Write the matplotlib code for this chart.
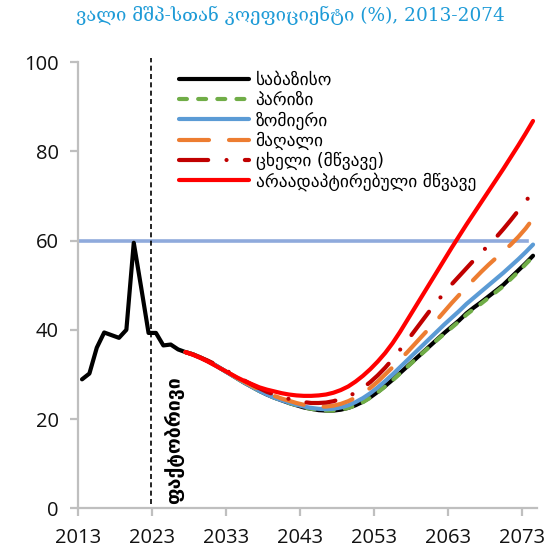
import matplotlib
matplotlib.use("Agg")
import matplotlib.pyplot as plt
import numpy as np

# ---------------- data ----------------
hist_years = list(range(2013, 2027))
hist_values = [28.9, 30.2, 36.0, 39.4, 38.8, 38.2, 40.0, 59.5, 49.5, 39.3,
               39.3, 36.5, 36.7, 35.6]

proj_years = list(range(2027, 2075))
baseline = [35.0, 34.5, 33.8, 33.0, 32.1, 31.1, 30.1, 29.1, 28.1, 27.2,
            26.3, 25.5, 24.8, 24.2, 23.6, 23.1, 22.6, 22.3, 22.0, 21.9,
            21.9, 22.1, 22.5, 23.1, 23.9, 24.9, 26.1, 27.4, 28.8, 30.3,
            31.8, 33.3, 34.8, 36.3, 37.8, 39.3, 40.7, 42.1, 43.7, 45.0,
            46.2, 47.5, 48.8, 50.1, 51.7, 53.3, 54.9, 56.6]
paris = [35.0, 34.5, 33.8, 33.0, 32.1, 31.1, 30.1, 29.1, 28.1, 27.2,
         26.3, 25.5, 24.8, 24.2, 23.6, 23.1, 22.6, 22.3, 22.0, 21.9,
         21.9, 22.1, 22.5, 23.0, 23.8, 24.8, 26.0, 27.3, 28.7, 30.2,
         31.7, 33.2, 34.7, 36.2, 37.7, 39.1, 40.5, 41.9, 43.4, 44.7,
         45.9, 47.2, 48.5, 49.8, 51.4, 53.0, 54.7, 56.4]
medium = [35.0, 34.5, 33.8, 33.0, 32.1, 31.1, 30.1, 29.1, 28.1, 27.2,
          26.3, 25.5, 24.8, 24.2, 23.7, 23.2, 22.8, 22.5, 22.3, 22.2,
          22.3, 22.6, 23.1, 23.8, 24.7, 25.8, 27.1, 28.5, 30.0, 31.6,
          33.2, 34.8, 36.4, 38.0, 39.6, 41.2, 42.7, 44.2, 45.8, 47.2,
          48.6, 50.0, 51.4, 52.8, 54.3, 55.8, 57.4, 59.1]
high = [35.0, 34.5, 33.8, 33.0, 32.1, 31.2, 30.2, 29.2, 28.3, 27.4,
        26.6, 25.8, 25.2, 24.6, 24.1, 23.6, 23.2, 22.9, 22.8, 22.8,
        23.0, 23.4, 24.0, 24.8, 25.8, 27.0, 28.4, 30.0, 31.6, 33.3,
        35.0, 36.8, 38.6, 40.4, 42.2, 44.1, 46.0, 47.8, 49.6, 51.3,
        53.0, 54.6, 56.1, 57.6, 59.1, 60.8, 62.7, 64.9]
severe = [35.0, 34.5, 33.8, 33.1, 32.3, 31.4, 30.4, 29.5, 28.6, 27.7,
          26.9, 26.1, 25.5, 25.0, 24.5, 24.1, 23.8, 23.6, 23.6, 23.7,
          24.0, 24.5, 25.1, 25.9, 27.0, 28.3, 29.8, 31.5, 33.4, 35.5,
          37.6, 39.8, 42.0, 44.2, 46.3, 48.3, 50.2, 52.0, 53.8, 55.6,
          57.3, 59.0, 60.7, 62.6, 64.6, 66.7, 68.8, 70.9]
nonadapted = [35.0, 34.4, 33.7, 32.9, 32.0, 31.1, 30.2, 29.3, 28.5, 27.8,
              27.1, 26.6, 26.2, 25.8, 25.5, 25.3, 25.2, 25.2, 25.3, 25.5,
              25.9, 26.5, 27.3, 28.4, 29.7, 31.2, 32.9, 34.8, 37.0, 39.5,
              42.2, 44.9, 47.6, 50.3, 53.0, 55.7, 58.4, 61.0, 63.6, 66.1,
              68.6, 71.1, 73.6, 76.1, 78.7, 81.3, 84.0, 86.8]

labels = ["საბაზისო", "პარიზი", "ზომიერი", "მაღალი", "ცხელი (მწვავე)",
          "არაადაპტირებული მწვავე"]
title = "ვალი მშპ-სთან კოეფიციენტი (%), 2013-2074"
actual_label = "ფაქტობრივი"
threshold = 60
threshold_end = 2073.7
x_ticks = list(range(2013, 2074, 10))
y_ticks = list(range(0, 101, 20))

# ---------------- plot ----------------
plt.rcParams['font.family'] = ['DejaVu Sans']
fig = plt.figure(figsize=(5.57, 5.53), dpi=100)
ax = fig.add_axes([0.1406, 0.0808, 0.8230, 0.807])

off = 0.5
hx = np.array(hist_years + proj_years) + off
hv = hist_values + baseline
px = np.array(proj_years) + off

lw = 3.0
ax.axhline(threshold, color="#8FAADC", lw=2.6, xmin=0, xmax=(threshold_end - 2013) / 62,
           zorder=1)
ax.plot(hx, hv, color="black", lw=lw, label=labels[0], solid_capstyle="round", zorder=2)
ax.plot(px, paris, color="#70AD47", lw=lw, label=labels[1], dashes=(1.9, 2.7),
        dash_capstyle="round", zorder=3)
ax.plot(px, medium, color="#5B9BD5", lw=lw, label=labels[2], solid_capstyle="round", zorder=4)
ax.plot(px, high, color="#ED7D31", lw=lw, label=labels[3], dashes=(7.2, 4.8),
        dash_capstyle="round", zorder=5)
ax.plot(px, severe, color="#C00000", lw=lw, label=labels[4], dashes=(7.0, 4.4, 0.01, 4.4),
        dash_capstyle="round", zorder=6)
ax.plot(px, nonadapted, color="#FF0000", lw=lw, label=labels[5], solid_capstyle="round", zorder=7)

ax.axvline(2022.8, ymin=0.01, ymax=1.01, color="black", lw=1.2, ls=(0, (3, 2)), zorder=8,
           clip_on=False)
ax.text(2025.9, 0.9, actual_label, rotation=90, ha="center", va="bottom",
        fontsize=14, fontweight="bold", color="black")

ax.set_xlim(2013, 2075)
ax.set_ylim(0, 100)
ax.set_xticks(x_ticks)
ax.set_yticks(y_ticks)
for s in ["top", "right"]:
    ax.spines[s].set_visible(False)
for s in ["left", "bottom"]:
    ax.spines[s].set_color("#BFBFBF")
    ax.spines[s].set_linewidth(1.6)
ax.tick_params(axis="both", colors="#BFBFBF", width=1.6, length=6, labelcolor="#111111",
               labelsize=14.5)
ax.tick_params(axis="x", pad=8)
ax.tick_params(axis="y", pad=8)
for t in ax.get_xticklabels() + ax.get_yticklabels():
    t.set_fontfamily(["Open Sans", "DejaVu Sans"])

fig.text(0.521, 0.972, title, ha="center", va="center", color="#1E9BD7", fontsize=13.3,
         family=["DejaVu Serif", "DejaVu Sans"])

leg = ax.legend(loc="upper left", bbox_to_anchor=(0.205, 0.995), frameon=False,
                fontsize=12.5, handlelength=4.0, handletextpad=0.4, labelspacing=0.12,
                borderaxespad=0)
fig.savefig("out.png", dpi=100)
